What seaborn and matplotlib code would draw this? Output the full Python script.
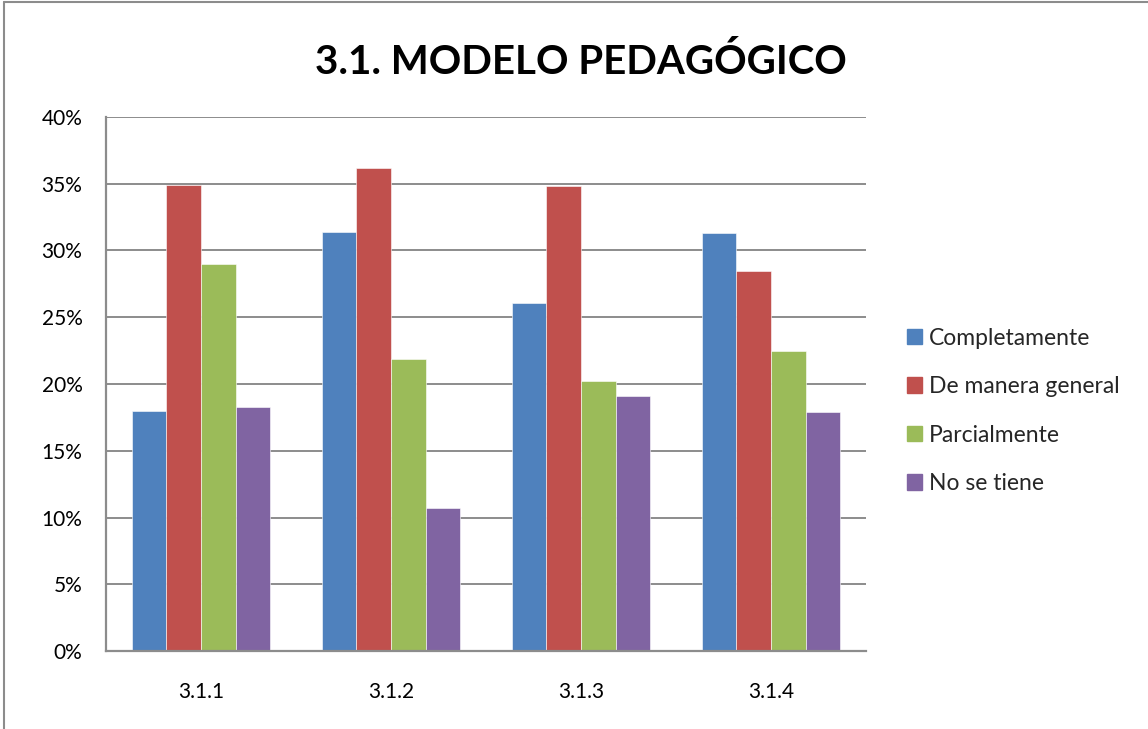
import pandas as pd
import matplotlib
matplotlib.use('Agg')
import matplotlib.pyplot as plt
import seaborn as sns
from matplotlib.lines import Line2D
from matplotlib.ticker import PercentFormatter

# Chart data
items = ['3.1.1', '3.1.2', '3.1.3', '3.1.4']
series = ['Completamente', 'De manera general', 'Parcialmente', 'No se tiene']
completamente = [18.0, 31.4, 26.1, 31.3]
de_manera_general = [34.9, 36.2, 34.8, 28.5]
parcialmente = [29.0, 21.9, 20.2, 22.5]
no_se_tiene = [18.3, 10.7, 19.1, 17.9]
colors = ['#4F81BD', '#C0504D', '#9BBB59', '#8064A2']

rows = []
for name, vals in zip(series, [completamente, de_manera_general, parcialmente, no_se_tiene]):
    for item, v in zip(items, vals):
        rows.append({'Item': item, 'Serie': name, 'Valor': v})
df = pd.DataFrame(rows)

sns.set_style('white')
plt.rcParams['font.family'] = ['Lato', 'DejaVu Sans']

fig = plt.figure(figsize=(11.48, 7.29), dpi=100)
ax = fig.add_axes([106 / 1148, 78 / 729, 760 / 1148, 534 / 729])

sns.barplot(data=df, x='Item', y='Valor', hue='Serie', hue_order=series,
            palette=colors, width=0.73, ax=ax, saturation=1, errorbar=None,
            edgecolor='white', linewidth=0.4)

ax.set_ylim(0, 40)
ax.set_yticks(range(0, 41, 5))
ax.yaxis.set_major_formatter(PercentFormatter(decimals=0))
ax.set_xlabel('')
ax.set_ylabel('')
ax.grid(axis='y', color='#8c8c8c', linewidth=1.4)
ax.set_axisbelow(True)
for side in ['top', 'right']:
    ax.spines[side].set_visible(False)
for side in ['left', 'bottom']:
    ax.spines[side].set_color('#8c8c8c')
    ax.spines[side].set_linewidth(1.6)
ax.tick_params(axis='both', length=0, labelsize=15, colors='black')
ax.tick_params(axis='y', pad=17)
ax.tick_params(axis='x', pad=22)

handles = [plt.Rectangle((0, 0), 1, 1, color=c) for c in colors]
ax.legend(handles, series, loc='center left', bbox_to_anchor=(907 / 1148, 1 - 411 / 729),
          bbox_transform=fig.transFigure, frameon=False, fontsize=16.5,
          borderpad=0, borderaxespad=0,
          handlelength=0.66, handleheight=0.66, handletextpad=0.3, labelspacing=1.2)

fig.text(0.506, 0.915, '3.1. MODELO PEDAGÓGICO', ha='center', va='center',
         fontsize=29, fontweight='bold', color='black')

# outer chart border (top and left edges visible)
fig.add_artist(Line2D([4 / 1148, 1], [1 - 2 / 729, 1 - 2 / 729], transform=fig.transFigure,
                      color='#8c8c8c', linewidth=1.5))
fig.add_artist(Line2D([4 / 1148, 4 / 1148], [0, 1 - 2 / 729], transform=fig.transFigure,
                      color='#8c8c8c', linewidth=1.5))

fig.savefig('out.png', dpi=100)
